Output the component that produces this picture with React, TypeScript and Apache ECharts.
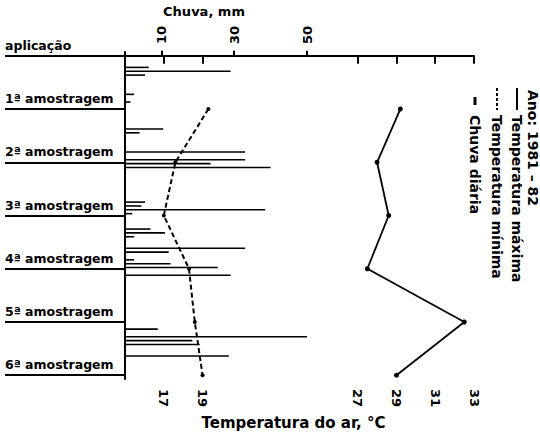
import React, { useEffect, useRef } from "react";
import * as echarts from "echarts";

const sampleLabels = [
  "aplicação",
  "1ª amostragem",
  "2ª amostragem",
  "3ª amostragem",
  "4ª amostragem",
  "5ª amostragem",
  "6ª amostragem",
];
const sampleDays = [0, 14, 28, 42, 56, 70, 84];

const tempDays = [14, 28, 42, 56, 70, 84];
const tempMax = [29.2, 28.0, 28.6, 27.5, 32.5, 29.0];
const tempMin = [19.3, 17.6, 17.0, 18.3, 18.6, 19.0];

const rainDays = [3, 4, 5, 10, 12, 19, 20, 25, 27, 28, 29, 38, 39, 40, 41, 45, 46, 47, 50, 51, 53, 54, 55, 57, 71, 73, 74, 75, 78];
const rainMm = [6.5, 29, 5.5, 2.5, 1.5, 10.5, 4, 33, 33, 23.5, 40, 5.5, 4.5, 38.5, 2, 7, 11, 2.5, 33, 12, 2.5, 12.5, 25.5, 29, 9, 50, 18.5, 20.5, 28.5];

const tempTicks = [17, 19, 27, 29, 31, 33];
const rainTicks = [10, 30, 50];

const legendTitle = "Ano: 1981 – 82";
const legendItems = ["Temperatura máxima", "Temperatura mínima", "Chuva diária"];

const FONT = "DejaVu Sans";

export default function App() {
  const ref = useRef<HTMLDivElement>(null);
  useEffect(() => {
    document.body.style.margin = "0";
    if (!ref.current) return;
    const chart = echarts.init(ref.current, undefined, { renderer: "svg" });
    const txt = { fontFamily: FONT, fontWeight: "bold" as const, color: "#000" };
    const black = "#000";
    const rot = -Math.PI / 2;
    const lt = (text: string, x: number, y: number) => ({
      type: "text",
      x,
      y,
      rotation: rot,
      style: { text, fontSize: 14, fontFamily: FONT, fontWeight: "bold", fill: black, align: "left", verticalAlign: "middle" },
    });
    const option: any = {
      animation: false,
      backgroundColor: "#fff",
      grid: [
        { left: 125, top: 52, width: 349, height: 331 },
        { left: 125, top: 52, width: 182, height: 331 },
      ],
      xAxis: [
        {
          gridIndex: 0,
          type: "value",
          position: "bottom",
          min: 15,
          max: 33,
          axisLine: { show: true, lineStyle: { color: black, width: 2 } },
          axisTick: { show: true, customValues: tempTicks, length: 8, lineStyle: { color: black, width: 2 } },
          axisLabel: { customValues: tempTicks, rotate: -90, margin: 10, fontSize: 13, ...txt },
          splitLine: { show: false },
          name: "Temperatura do ar, °C",
          nameLocation: "middle",
          nameGap: 33,
          nameTextStyle: { ...txt, fontSize: 15, padding: [0, 12, 0, 0] },
        },
        {
          gridIndex: 1,
          type: "value",
          position: "top",
          min: 0,
          max: 50,
          axisLine: { show: true, lineStyle: { color: black, width: 2 } },
          axisTick: { show: true, customValues: rainTicks, length: 5, lineStyle: { color: black, width: 2 } },
          axisLabel: { customValues: rainTicks, rotate: 90, margin: 8, fontSize: 13, ...txt },
          splitLine: { show: false },
          name: "Chuva, mm",
          nameLocation: "middle",
          nameGap: 30,
          nameTextStyle: { ...txt, fontSize: 13, padding: [0, 24, 0, 0] },
        },
      ],
      yAxis: [
        {
          gridIndex: 0,
          type: "value",
          inverse: true,
          min: -1,
          max: 85,
          axisLine: { show: true, lineStyle: { color: black, width: 2 } },
          axisTick: { show: true, customValues: sampleDays, length: 120, lineStyle: { color: black, width: 2 } },
          axisLabel: {
            customValues: sampleDays,
            formatter: (v: number) => sampleLabels[sampleDays.indexOf(Number(v))] ?? "",
            align: "left",
            verticalAlign: "bottom",
            margin: 120,
            padding: [0, 0, 4, 0],
            fontSize: 12.5,
            ...txt,
          },
          splitLine: { show: false },
        },
        { gridIndex: 1, type: "value", inverse: true, min: -1, max: 85, show: false },
      ],
      series: [
        {
          type: "custom",
          name: "Chuva diária",
          xAxisIndex: 1,
          yAxisIndex: 1,
          data: rainDays.map((d, i) => [rainMm[i], d]),
          encode: { x: 0, y: 1 },
          renderItem: (_p: any, api: any) => {
            const r = api.value(0);
            const d = api.value(1);
            const p0 = api.coord([0, d]);
            const p1 = api.coord([r, d]);
            return {
              type: "line",
              shape: { x1: p0[0], y1: p0[1], x2: p1[0], y2: p1[1] },
              style: { stroke: black, lineWidth: 1.6 },
            };
          },
        },
        {
          type: "line",
          name: "Temperatura máxima",
          xAxisIndex: 0,
          yAxisIndex: 0,
          data: tempDays.map((d, i) => [tempMax[i], d]),
          symbol: "circle",
          symbolSize: 5,
          lineStyle: { color: black, width: 1.8 },
          itemStyle: { color: black },
        },
        {
          type: "line",
          name: "Temperatura mínima",
          xAxisIndex: 0,
          yAxisIndex: 0,
          data: tempDays.map((d, i) => [tempMin[i], d]),
          symbol: "circle",
          symbolSize: 4,
          lineStyle: { color: black, width: 2, type: [5, 3] },
          itemStyle: { color: black },
        },
      ],
      graphic: [
        lt(legendTitle, 533, 90),
        { type: "line", shape: { x1: 517, y1: 88, x2: 517, y2: 110 }, style: { stroke: black, lineWidth: 2 } },
        lt(legendItems[0], 517, 115),
        { type: "line", shape: { x1: 497, y1: 88, x2: 497, y2: 110 }, style: { stroke: black, lineWidth: 2, lineDash: [3, 2] } },
        lt(legendItems[1], 497, 115),
        { type: "line", shape: { x1: 475, y1: 97, x2: 475, y2: 105 }, style: { stroke: black, lineWidth: 3 } },
        lt(legendItems[2], 475, 115),
      ],
    };
    chart.setOption(option);
    return () => chart.dispose();
  }, []);
  return <div ref={ref} style={{ width: 540, height: 435 }} />;
}
